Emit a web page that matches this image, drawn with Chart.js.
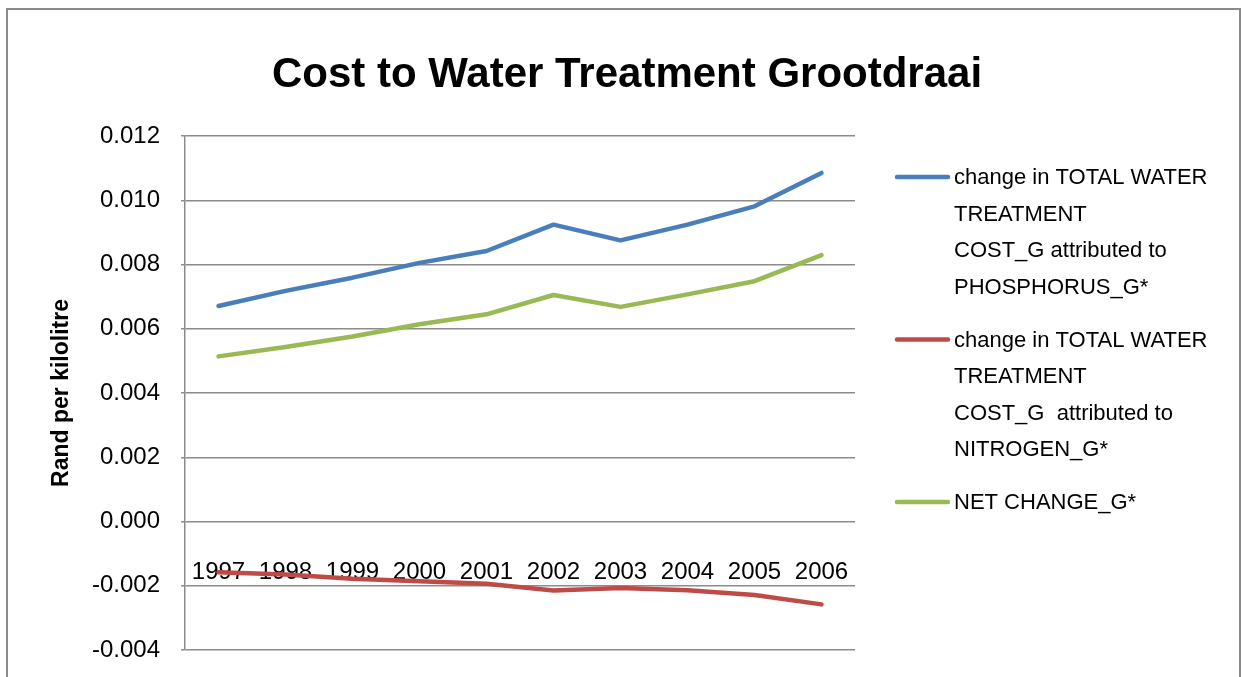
<!DOCTYPE html>
<html lang="en">
<head>
    <meta charset="UTF-8">
    <title>Cost to Water Treatment Grootdraai</title>
    <script src="https://cdn.jsdelivr.net/npm/chart.js"></script>
    <style>
        html, body { margin: 0; padding: 0; background: #fff; overflow: hidden; }
        .wrap { position: relative; width: 1243px; height: 677px; }
        .wrap canvas { position: absolute; left: 0; top: 0; }
        /* outer chart frame, bottom edge runs off the page */
        .frame { position: absolute; left: 6px; top: 8px; width: 1235px; height: 700px;
                 border: 2px solid #8a8a8a; box-sizing: border-box; pointer-events: none; }
    </style>
</head>
<body>
<div class="wrap">
    <canvas id="costChart" width="1243" height="677"></canvas>
    <div class="frame"></div>
</div>

<script>
    const years = ['1997', '1998', '1999', '2000', '2001', '2002', '2003', '2004', '2005', '2006'];
    const phosphorus = [0.00671, 0.00718, 0.00759, 0.00805, 0.00842, 0.00924, 0.00875, 0.00924, 0.00981, 0.01085];
    const nitrogen = [-0.00158, -0.00165, -0.00178, -0.00186, -0.00194, -0.00215, -0.00207, -0.00214, -0.00229, -0.00258];
    const netChange = [0.00514, 0.00543, 0.00576, 0.00614, 0.00645, 0.00705, 0.00668, 0.00707, 0.00748, 0.00829];
    const yTicks = [-0.004, -0.002, 0, 0.002, 0.004, 0.006, 0.008, 0.010, 0.012];

    const chartTitle = 'Cost to Water Treatment Grootdraai';
    const legendLines = [
        ['change in TOTAL WATER', 'TREATMENT', 'COST_G attributed to', 'PHOSPHORUS_G*'],
        ['change in TOTAL WATER', 'TREATMENT', 'COST_G  attributed to', 'NITROGEN_G*'],
        ['NET CHANGE_G*']
    ];

    Chart.defaults.font.family = "'Liberation Sans', Arial, sans-serif";
    Chart.defaults.color = '#000';

    const gridGray = '#8c8c8c';

    // title centred on the whole canvas + wrapped legend on the right
    const decorations = {
        id: 'decorations',
        afterDraw(chart) {
            const c = chart.ctx;
            c.save();
            c.fillStyle = '#000';
            c.textAlign = 'center';
            c.textBaseline = 'alphabetic';
            c.font = "bold 42px 'Liberation Sans', Arial, sans-serif";
            c.fillText(chartTitle, 627, 87);

            c.font = "22px 'Liberation Sans', Arial, sans-serif";
            c.textAlign = 'left';
            c.textBaseline = 'middle';
            let y = 177;
            chart.data.datasets.forEach((ds, i) => {
                c.strokeStyle = ds.borderColor;
                c.lineWidth = 4.5;
                c.lineCap = 'round';
                c.beginPath();
                c.moveTo(897, y);
                c.lineTo(948, y);
                c.stroke();
                legendLines[i].forEach((line, j) => {
                    c.fillText(line, 954, y + 1 + j * 36.5);
                });
                y += legendLines[i].length * 36.5 + 16.5;
            });
            c.restore();
        }
    };

    const series = [
        { lines: legendLines[0], data: phosphorus, color: '#4A7EBB' },
        { lines: legendLines[1], data: nitrogen, color: '#BE4B48' },
        { lines: legendLines[2], data: netChange, color: '#98B954' }
    ];

    new Chart(document.getElementById('costChart'), {
        type: 'line',
        data: {
            labels: years,
            datasets: series.map(s => ({
                label: s.lines.join(' '),
                data: s.data,
                borderColor: s.color,
                backgroundColor: s.color,
                borderWidth: 4.5,
                borderCapStyle: 'round',
                borderJoinStyle: 'round',
                pointRadius: 0,
                tension: 0,
                fill: false
            }))
        },
        options: {
            responsive: false,
            animation: false,
            layout: { padding: { left: 10, right: 388, top: 136, bottom: 27 } },
            plugins: {
                legend: { display: false },
                tooltip: { enabled: false },
                title: { display: false }
            },
            scales: {
                x: {
                    position: { y: 0 },
                    offset: true,
                    // year labels sit inside the plot under the zero line, take no layout room
                    afterFit: scale => { scale.height = 0; },
                    grid: { display: false, drawTicks: false },
                    border: { display: false },
                    ticks: {
                        font: { size: 24 },
                        padding: 36,
                        maxRotation: 0,
                        autoSkip: false
                    }
                },
                y: {
                    min: -0.004,
                    max: 0.012,
                    afterBuildTicks: scale => {
                        scale.ticks = yTicks.map(v => ({ value: v }));
                    },
                    afterFit: scale => {
                        scale.width = 175;
                        // only half a label of overhang above/below the plot
                        scale.paddingTop = 14;
                        scale.paddingBottom = 14;
                    },
                    grid: { color: gridGray, lineWidth: 1.5, tickLength: 4 },
                    border: { color: gridGray, width: 1.5 },
                    ticks: {
                        font: { size: 24 },
                        padding: 21,
                        callback: v => v.toFixed(3)
                    },
                    title: {
                        display: true,
                        text: 'Rand per kilolitre',
                        font: { size: 23, weight: 'bold' },
                        padding: { top: 38, bottom: 0 }
                    }
                }
            }
        },
        plugins: [decorations]
    });
</script>
</body>
</html>
